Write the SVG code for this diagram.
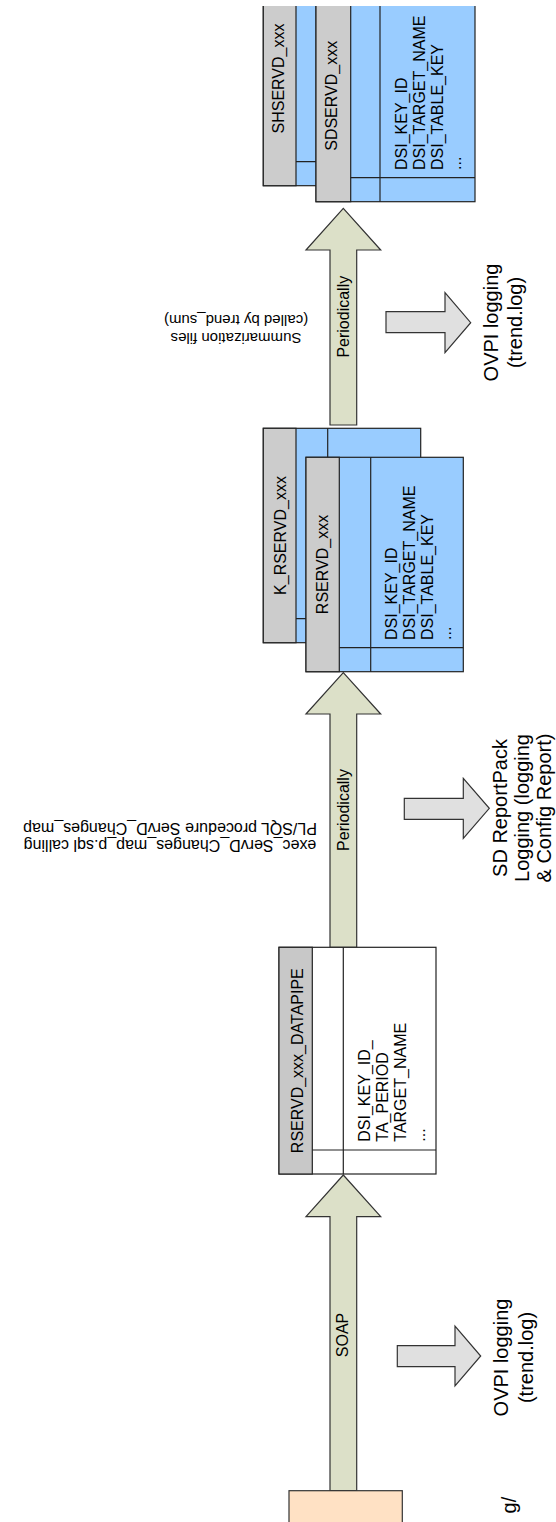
<svg xmlns="http://www.w3.org/2000/svg" width="556" height="1522" viewBox="0 0 556 1522">
<style>
  .t { font-family: "Liberation Sans", Arial, sans-serif; font-size: 16px; fill: #000; }
  .t20 { font-size: 20px; }
  .t15 { font-size: 15px; }
  .blue { fill: #99ccff; stroke: #222; stroke-width: 1.2; }
  .white { fill: #ffffff; stroke: #222; stroke-width: 1.2; }
  .gray { fill: #cccccc; stroke: #222; stroke-width: 1.2; }
  .ln { stroke: #222; stroke-width: 1.2; fill: none; }
  .big { fill: #dce0c8; stroke: #333; stroke-width: 1.2; }
  .log { fill: #e0e0e0; stroke: #333; stroke-width: 1.2; }
  .src { fill: #ffe1c4; stroke: #333; stroke-width: 1.2; }
</style>
<defs>
  <clipPath id="topclip"><rect x="0" y="6" width="556" height="400"/></clipPath>
</defs>
<rect width="556" height="1522" fill="#ffffff"/>

<g id="connectors">
  <polygon class="big" points="343.3,208.3 380.7,250 356.7,250 356.7,425 330,425 330,250 306,250"/>
  <text class="t" transform="translate(349.3,316.7) rotate(-90)" text-anchor="middle">Periodically</text>
  <polygon class="big" points="343.3,672.7 380.7,714 356.7,714 356.7,947.3 330,947.3 330,714 306,714"/>
  <text class="t" transform="translate(349.3,810) rotate(-90)" text-anchor="middle">Periodically</text>
  <polygon class="big" points="343.3,1175 380.7,1216.7 356.7,1216.7 356.7,1490.7 330,1490.7 330,1216.7 306,1216.7"/>
  <text class="t" transform="translate(348.3,1335) rotate(-90)" text-anchor="middle">SOAP</text>
  <polygon class="log" points="386,311.7 445,311.7 445,292.7 470.7,322.7 445,352.7 445,332.7 386,332.7"/>
  <polygon class="log" points="404.3,798.3 463.3,798.3 463.3,778.3 489.3,808.3 463.3,838.3 463.3,819.3 404.3,819.3"/>
  <polygon class="log" points="397.3,1345.7 455,1345.7 455,1326 480.7,1356 455,1386 455,1366.7 397.3,1366.7"/>
  <text class="t t15" transform="rotate(180 236 333)" x="236" y="333" text-anchor="middle">Summarization files<tspan x="236" dy="18">(called by trend_sum)</tspan></text>
  <text class="t" transform="rotate(180 170 840)" x="170" y="840" text-anchor="middle">exec_ServD_Changes_map_p.sql calling<tspan x="170" dy="17.5">PL/SQL procedure ServD_Changes_map</tspan></text>
</g>

<g id="shservd" clip-path="url(#topclip)">
  <rect class="blue" x="263.3" y="-28.7" width="157.4" height="214.4"/>
  <rect class="gray" x="263.3" y="-28.7" width="32.7" height="214.4"/>
  <line class="ln" x1="327.7" y1="-28.7" x2="327.7" y2="185.7"/>
  <line class="ln" x1="296" y1="161.7" x2="420.7" y2="161.7"/>
  <text class="t" transform="translate(284.3,78.5) rotate(-90)" text-anchor="middle">SHSERVD_xxx</text>
</g>

<g id="sdservd" clip-path="url(#topclip)">
  <rect class="blue" x="316" y="-12.7" width="159" height="214.4"/>
  <rect class="gray" x="316" y="-12.7" width="34.7" height="214.4"/>
  <line class="ln" x1="380" y1="-12.7" x2="380" y2="201.7"/>
  <line class="ln" x1="350.7" y1="177.7" x2="475" y2="177.7"/>
  <text class="t" transform="translate(337.3,95.8) rotate(-90)" text-anchor="middle">SDSERVD_xxx</text>
  <text class="t" transform="translate(406.7,170) rotate(-90)">DSI_KEY_ID</text>
  <text class="t" transform="translate(424.7,170) rotate(-90)">DSI_TARGET_NAME</text>
  <text class="t" transform="translate(442.7,170) rotate(-90)">DSI_TABLE_KEY</text>
  <text class="t" transform="translate(461.2,170) rotate(-90)">...</text>
</g>

<g id="k_rservd">
  <rect class="blue" x="263.3" y="428.3" width="157.4" height="214.4"/>
  <rect class="gray" x="263.3" y="428.3" width="32.7" height="214.4"/>
  <line class="ln" x1="327.7" y1="428.3" x2="327.7" y2="642.7"/>
  <line class="ln" x1="296" y1="618.7" x2="420.7" y2="618.7"/>
  <text class="t" transform="translate(286,535.5) rotate(-90)" text-anchor="middle">K_RSERVD_xxx</text>
  <text class="t" transform="translate(372.3,611) rotate(-90)">DSI_TARGET_NAME</text>
</g>

<g id="rservd">
  <rect class="blue" x="306" y="457.3" width="157.3" height="214.4"/>
  <rect class="gray" x="306" y="457.3" width="33.3" height="214.4"/>
  <line class="ln" x1="370.7" y1="457.3" x2="370.7" y2="671.7"/>
  <line class="ln" x1="339.3" y1="647.7" x2="463.3" y2="647.7"/>
  <text class="t" transform="translate(328.3,564.5) rotate(-90)" text-anchor="middle">RSERVD_xxx</text>
  <text class="t" transform="translate(396.7,640) rotate(-90)">DSI_KEY_ID</text>
  <text class="t" transform="translate(414.7,640) rotate(-90)">DSI_TARGET_NAME</text>
  <text class="t" transform="translate(432.7,640) rotate(-90)">DSI_TABLE_KEY</text>
  <text class="t" transform="translate(451.2,640) rotate(-90)">...</text>
</g>

<g id="datapipe">
  <rect class="white" x="279" y="947.3" width="157" height="226.7"/>
  <rect class="gray" x="279" y="947.3" width="33.3" height="226.7" style="fill:#c8c8c8"/>
  <line class="ln" x1="343.3" y1="947.3" x2="343.3" y2="1174"/>
  <line class="ln" x1="312.3" y1="1150" x2="436" y2="1150"/>
  <text class="t" transform="translate(303.3,1060.7) rotate(-90)" text-anchor="middle">RSERVD_xxx_DATAPIPE</text>
  <text class="t" transform="translate(370,1141.7) rotate(-90)">DSI_KEY_ID_</text>
  <text class="t" transform="translate(388,1141.7) rotate(-90)">TA_PERIOD</text>
  <text class="t" transform="translate(406,1141.7) rotate(-90)">TARGET_NAME</text>
  <text class="t" transform="translate(424.5,1141.7) rotate(-90)">...</text>
</g>

<g id="source">
  <rect class="src" x="289" y="1490.7" width="113.3" height="40"/>
</g>

<g id="ovpi-log-1">
  <text class="t t20" transform="translate(498.3,322.5) rotate(-90)" text-anchor="middle">OVPI logging<tspan x="0" dy="24">(trend.log)</tspan></text>
</g>
<g id="sd-log">
  <text class="t t20" transform="translate(507,808) rotate(-90)" text-anchor="middle">SD ReportPack<tspan x="0" dy="22">Logging (logging</tspan><tspan x="0" dy="22">&amp; Config Report)</tspan></text>
</g>
<g id="ovpi-log-2">
  <text class="t t20" transform="translate(508.3,1357.5) rotate(-90)" text-anchor="middle">OVPI logging<tspan x="0" dy="24.5">(trend.log)</tspan></text>
</g>
<g id="cut-label">
  <text class="t t20" transform="translate(516,1496.7) rotate(-90)" text-anchor="end">g/</text>
</g>
</svg>
